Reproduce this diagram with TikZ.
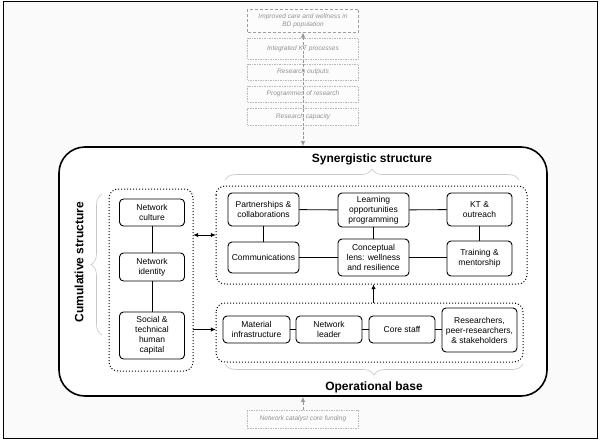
\documentclass[tikz,border=0pt]{standalone}
\usepackage{fontspec}
\setmainfont{Liberation Sans}
\usetikzlibrary{arrows.meta,decorations.pathreplacing,calc}
\begin{document}
\begin{tikzpicture}[x=1pt,y=-1pt,
  box/.style={draw=black,line width=0.9pt,rounded corners=4pt,fill=white,align=center,
    font=\fontsize{8.5}{10}\selectfont,inner sep=1pt},
  cont/.style={draw=black,line width=1pt,dotted,rounded corners=9pt},
  gbox/.style={draw=gray!55,dash pattern=on 1.5pt off 1pt,line width=0.5pt,fill=gray!2,align=center,
    font=\fontsize{6.6}{8}\selectfont\itshape,text=gray!85,minimum width=111pt},
  link/.style={draw=black,line width=0.9pt},
  arr/.style={draw=black,line width=1pt,-{Latex[length=5pt,width=4.5pt]}},
  garr/.style={draw=gray!80,line width=0.9pt,dash pattern=on 3pt off 1.5pt,-{Latex[length=5pt,width=4.5pt]}},
  br/.style={draw=gray!45,line width=0.6pt,decorate,decoration={brace,amplitude=11pt}},
  ttl/.style={font=\fontsize{12}{14}\selectfont\bfseries}
]
\useasboundingbox (0,0) rectangle (600,442);
\draw[fill=gray!4,line width=0.8pt] (3,1.5) rectangle (597.5,438);

% big rounded frame
\node[draw=black,line width=1.6pt,rounded corners=26pt,fill=white,minimum width=488pt,minimum height=249pt,inner sep=0pt] (big) at (303,271.5) {};

% top grey boxes
\node[gbox,draw=gray!75,dash pattern=on 3pt off 2pt,line width=1pt,minimum height=23pt] (imp) at (303,20.5) {Improved care and wellness in\\BD population};
\node[gbox,minimum height=21pt] (ikt) at (303,48.5) {Integrated KT processes};
\node[gbox,minimum height=16pt] (rout) at (303,72) {Research outputs};
\node[gbox,minimum height=16pt] (prog) at (303,94) {Programmes of research};
\node[gbox,minimum height=17pt] (rcap) at (303,116.5) {Research capacity};
\draw[garr,{Latex[length=5pt,width=4.5pt]}-{Latex[length=5pt,width=4.5pt]}] (imp.south) -- (big.north);

% bottom grey box
\node[gbox,minimum height=18pt] (fund) at (303,419) {Network catalyst core funding};
\draw[garr] (fund.north) -- (big.south);

% containers
\draw[cont] (109,189) rectangle (193,371);
\node[inner sep=0pt,minimum width=84pt,minimum height=182pt] (left) at (151,280) {};
\draw[cont] (216,186) rectangle (527,284);
\node[inner sep=0pt,minimum width=311pt,minimum height=98pt] (syn) at (371.5,235) {};
\draw[cont] (216,303) rectangle (523,362);
\node[inner sep=0pt,minimum width=307pt,minimum height=59pt] (op) at (369.5,332.5) {};

% left boxes
\node[box,minimum width=65pt,minimum height=27pt] (cul) at (152,212.5) {Network\\culture};
\node[box,minimum width=65pt,minimum height=28pt] (iden) at (152,267) {Network\\identity};
\node[box,minimum width=65pt,minimum height=47pt] (soc) at (152,335.5) {Social \&\\technical\\human\\capital};
\draw[link] (cul) -- (iden);
\draw[link] (iden) -- (soc);

% synergistic boxes
\node[box,minimum width=71pt,minimum height=33pt] (part) at (263.5,209.5) {Partnerships \&\\collaborations};
\node[box,minimum width=71pt,minimum height=34pt] (learn) at (373.5,210) {Learning\\opportunities\\programming};
\node[box,minimum width=65pt,minimum height=33pt] (kt) at (479.5,209.5) {KT \&\\outreach};
\node[box,minimum width=71pt,minimum height=31pt] (comm) at (263.5,257.5) {Communications};
\node[box,minimum width=71pt,minimum height=37pt] (con) at (373.5,257.5) {Conceptual\\lens: wellness\\and resilience};
\node[box,minimum width=65pt,minimum height=35pt] (train) at (479.5,258.5) {Training \&\\mentorship};
\draw[link] (part) -- (learn);
\draw[link] (learn) -- (kt);
\draw[link] (part) -- (comm);
\draw[link] (learn) -- (con);
\draw[link] (kt) -- (train);
\draw[link] (comm) -- (con);
\draw[link] (con.east) -- (train.west |- con.east);

% operational boxes
\node[box,minimum width=67pt,minimum height=27pt] (mat) at (256.5,329.5) {Material\\infrastructure};
\node[box,minimum width=66pt,minimum height=27pt] (lead) at (329,329.5) {Network\\leader};
\node[box,minimum width=66pt,minimum height=27pt] (core) at (402,329.5) {Core staff};
\node[box,minimum width=75pt,minimum height=44pt] (res) at (479.5,330) {Researchers,\\peer-researchers,\\\& stakeholders};
\draw[link] (mat) -- (lead);
\draw[link] (lead) -- (core);
\draw[link] (core) -- (res.west |- core.east);

% arrows between containers
\draw[arr,{Latex[length=5pt,width=4.5pt]}-{Latex[length=5pt,width=4.5pt]}] (left.east |- syn.west) -- (syn.west);
\draw[arr] (left.east |- mat.west) -- (op.west |- mat.west);
\draw[arr] (op.north -| con.south) -- (syn.south -| con.south);

% titles and braces
\node[ttl] (tsyn) at (372,159) {Synergistic structure};
\draw[br] (225,180) -- (519,180);
\node[ttl] (top) at (374,387) {Operational base};
\draw[br] (523,364) -- (225,364);
\node[ttl,rotate=90] (tcum) at (79,262) {Cumulative structure};
\draw[br] (102,335) -- (102,194);
\end{tikzpicture}
\end{document}
